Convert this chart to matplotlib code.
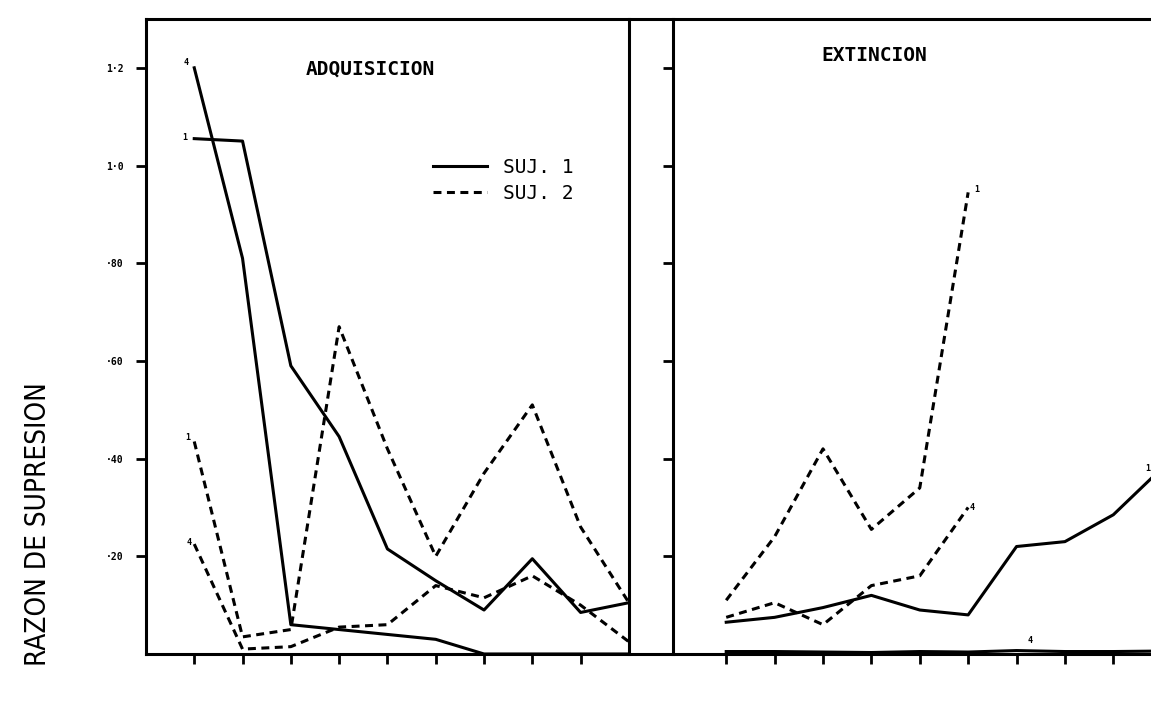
import matplotlib.pyplot as plt

# sesiones (posicion en el eje x de cada panel)
ses_adq = [1, 2, 3, 4, 5, 6, 7, 8, 9, 10]
ses_ext = [1, 2, 3, 4, 5, 6, 7, 8, 9, 10]

# ADQUISICION
adq_suj1_4 = [1.20, 0.81, 0.06, 0.05, 0.04, 0.03, 0.0, 0.0, 0.0, 0.0]
adq_suj1_1 = [1.055, 1.05, 0.59, 0.445, 0.215, 0.15, 0.09, 0.195, 0.085, 0.105]
adq_suj2_1 = [0.435, 0.035, 0.05, 0.67, 0.42, 0.20, 0.37, 0.51, 0.26, 0.105]
adq_suj2_4 = [0.225, 0.01, 0.015, 0.055, 0.06, 0.14, 0.115, 0.16, 0.10, 0.025]

# EXTINCION
ext_suj2_1 = [0.11, 0.24, 0.42, 0.255, 0.34, 0.945]
ext_suj2_4 = [0.075, 0.105, 0.06, 0.14, 0.16, 0.30]
ext_suj1_1 = [0.065, 0.075, 0.095, 0.12, 0.09, 0.08, 0.22, 0.23, 0.285, 0.38]
ext_suj1_4 = [0.005, 0.005, 0.004, 0.003, 0.005, 0.004, 0.007, 0.005, 0.005, 0.006]

yticks = [0.2, 0.4, 0.6, 0.8, 1.0, 1.2]
ytick_labels = ["·20", "·40", "·60", "·80", "1·0", "1·2"]
xticks = [1, 2, 3, 4, 5, 6, 7, 8, 9]

MONO = "DejaVu Sans Mono"
LW = 2.2
DASH = (0, (2.6, 1.8))

fig = plt.figure(figsize=(11.51, 7.10), dpi=100)

bottom, height = 0.0789, 0.8944

# marco comun: linea superior y eje inferior continuos
frame = fig.add_axes([0.1268, bottom, 1 - 0.1268, height], zorder=0)
frame.set_xticks([])
frame.set_yticks([])
for side in ["left", "right"]:
    frame.spines[side].set_visible(False)
for side in ["top", "bottom"]:
    frame.spines[side].set_linewidth(LW)

ax1 = fig.add_axes([0.1268, bottom, 0.4196, height], zorder=1)
ax2 = fig.add_axes([0.5847, bottom, 0.4162, height], zorder=1)
for ax in [ax1, ax2]:
    ax.patch.set_alpha(0)
    ax.set_ylim(0, 1.30)
    ax.set_yticks(yticks)
    ax.set_xticks(xticks)
    ax.set_xticklabels([])
    ax.spines["top"].set_visible(False)
    ax.spines["bottom"].set_visible(False)
    ax.spines["left"].set_linewidth(LW)
    ax.spines["right"].set_linewidth(LW)
    ax.tick_params(direction="out", length=7, width=2, pad=9)

ax1.set_xlim(0, 10)
ax2.set_xlim(-0.1, 9.8)
ax2.spines["right"].set_visible(False)
ax1.set_yticklabels(ytick_labels, fontsize=7, fontweight="bold", family=MONO)
ax2.set_yticklabels([])

# panel adquisicion
l_suj1, = ax1.plot(ses_adq, adq_suj1_4, color="black", lw=LW)
ax1.plot(ses_adq, adq_suj1_1, color="black", lw=LW)
l_suj2, = ax1.plot(ses_adq, adq_suj2_1, color="black", lw=LW, linestyle=DASH)
ax1.plot(ses_adq, adq_suj2_4, color="black", lw=LW, linestyle=DASH)

# panel extincion
ax2.plot(ses_ext[:6], ext_suj2_1, color="black", lw=LW, linestyle=DASH)
ax2.plot(ses_ext[:6], ext_suj2_4, color="black", lw=LW, linestyle=DASH)
ax2.plot(ses_ext, ext_suj1_1, color="black", lw=LW)
ax2.plot(ses_ext, ext_suj1_4, color="black", lw=LW, clip_on=False)

small = dict(fontsize=6, fontweight="bold", family=MONO, ha="center", va="center",
             textcoords="offset points")
ax1.annotate("4", (ses_adq[0], adq_suj1_4[0]), xytext=(-6, 4), **small)
ax1.annotate("1", (ses_adq[0], adq_suj1_1[0]), xytext=(-7, 1), **small)
ax1.annotate("1", (ses_adq[0], adq_suj2_1[0]), xytext=(-5, 3), **small)
ax1.annotate("4", (ses_adq[0], adq_suj2_4[0]), xytext=(-4, 1), **small)
ax2.annotate("1", (ses_ext[5], ext_suj2_1[5]), xytext=(6, 2), **small)
ax2.annotate("4", (ses_ext[5], ext_suj2_4[5]), xytext=(3, 0), **small)
ax2.annotate("1", (ses_ext[8], ext_suj1_1[8]), xytext=(25, 33), **small)
ax2.annotate("4", (ses_ext[6], ext_suj1_4[6]), xytext=(10, 7), **small)

ax1.text(0.465, 0.921, "ADQUISICION", transform=ax1.transAxes, fontsize=14,
         fontweight="bold", family=MONO, ha="center", va="center")
ax2.text(0.42, 0.943, "EXTINCION", transform=ax2.transAxes, fontsize=14,
         fontweight="bold", family=MONO, ha="center", va="center")

ax1.legend(handles=[l_suj1, l_suj2], labels=["SUJ. 1", "SUJ. 2"],
           loc="upper left", bbox_to_anchor=(0.594, 0.781), frameon=False,
           borderpad=0, borderaxespad=0, handlelength=2.8, handletextpad=0.8,
           labelspacing=0.35, prop={"family": MONO, "size": 14})

fig.text(0.033, 0.262, "RAZON DE SUPRESION", rotation=90, fontsize=20,
         family="DejaVu Sans", fontstretch="condensed", ha="center", va="center")

fig.savefig("out.png", dpi=100)
